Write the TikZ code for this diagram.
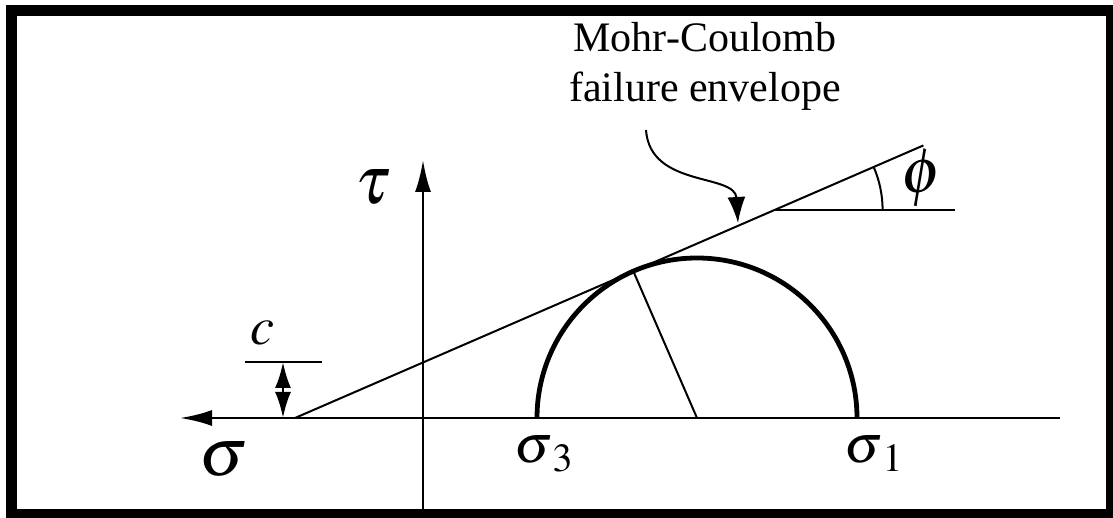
\documentclass[tikz,border=0pt]{standalone}
\usepackage{mathptmx}
\usepackage[no-math]{fontspec}
\setmainfont{Liberation Serif}
\usetikzlibrary{arrows.meta,calc}
\tikzset{
  >={Latex[length=16pt,width=8pt]},
  ax/.style={line width=1.4pt},
  lb/.style={inner sep=0pt,font=\fontsize{27}{29}\selectfont},
  big/.style={inner sep=0pt,font=\fontsize{34}{36}\selectfont},
  txt/.style={inner sep=0pt,align=center,font=\fontsize{21}{25}\selectfont},
  every picture/.style={line width=1pt},
}

\begin{document}
\begin{tikzpicture}[x=0.5pt,y=0.5pt]
\useasboundingbox (0,0) rectangle (1113,518);
\draw[line width=5.5pt] (11.5,3) rectangle (1111,507.5);
\coordinate (o) at (423,100); \coordinate (xr) at (1060,100); \coordinate (xl) at (180,100);
\coordinate (yb) at (423,6); \coordinate (yt) at (423,358);
\draw[ax,->] (xr)--(xl); \draw[ax,->] (yb)--(yt);
\coordinate (e0) at (295,100); \coordinate (e1) at ($(e0)+(23.45:685)$);
\draw (e0)--(e1);
\coordinate (m) at (697,100); \coordinate (s1) at (857,100); \coordinate (t) at ($(m)+(113.45:160)$);
\draw[line width=2.4pt] (s1) arc[start angle=0,end angle=180,radius=160];
\draw (m)--(t);
\coordinate (p0) at (774.6,308); \coordinate (p1) at (955,308);
\draw (p0)--(p1); \draw ($(p0)+(108,0)$) arc[start angle=0,end angle=23.45,radius=108];
\coordinate (c0) at (245,156); \coordinate (c1) at (322,156);
\coordinate (ca) at (283,156); \coordinate (cb) at (283,100);
\draw (c0)--(c1); \draw[ax,{Latex[length=13pt,width=8pt]}-{Latex[length=13pt,width=8pt]}] (ca)--(cb);
\node[big] (tau) at (373,331) {$\tau$}; \node[big] (sig) at (224,59) {$\sigma$};
\node[lb] (c) at (262,185) {$c$}; \node[lb,font=\fontsize{32}{34}\selectfont] (phi) at (922,340) {$\phi$};
\node[lb,anchor=base west] (s3) at (513,55) {$\sigma_{\kern3pt 3}$}; \node[lb,anchor=base west] (s1l) at (843,55) {$\sigma_{\kern3pt 1}$};
\node[txt] (mc) at (705,452) {Mohr-Coulomb\\failure envelope};
\coordinate (a0) at (646,388); \coordinate (a1) at (738,295);
\draw[->,>={Latex[length=13pt,width=9pt]}] (a0) .. controls (650,330) and (735,345) .. (a1);
\end{tikzpicture}
\end{document}
